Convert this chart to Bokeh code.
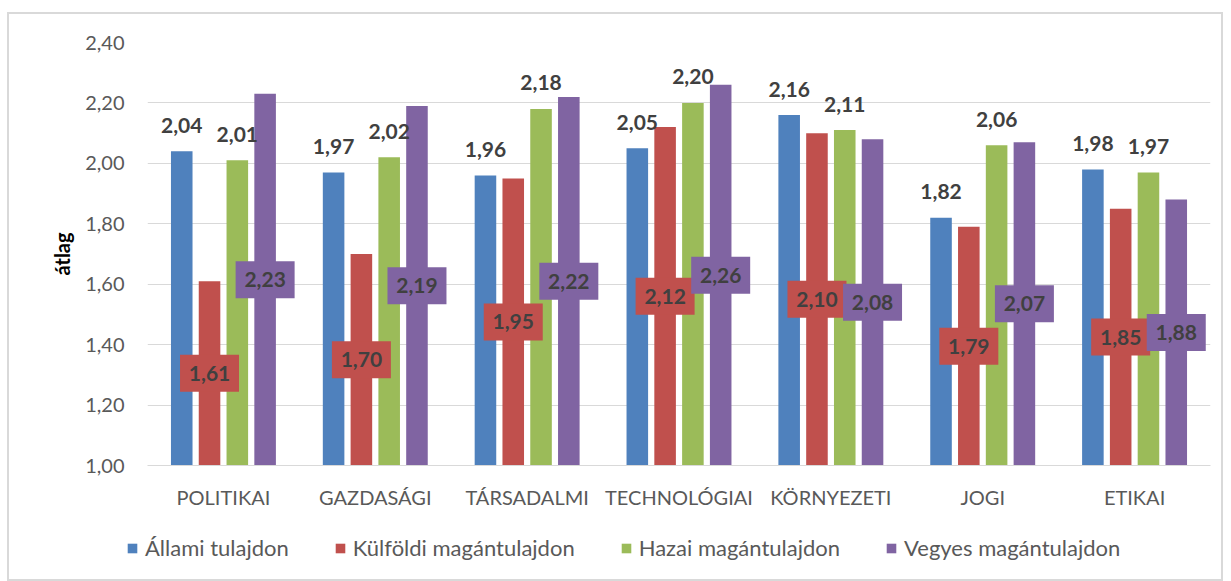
from bokeh.plotting import figure
from bokeh.models import (ColumnDataSource, FactorRange, Range1d, FixedTicker,
                          CustomJSTickFormatter, Legend, LegendItem)
from bokeh.layouts import column
from bokeh.transform import dodge
from bokeh.core.properties import value
from bokeh.embed import file_html
from bokeh.resources import INLINE

categories = ["POLITIKAI", "GAZDASÁGI", "TÁRSADALMI", "TECHNOLÓGIAI", "KÖRNYEZETI", "JOGI", "ETIKAI"]
series_names = ["Állami tulajdon", "Külföldi magántulajdon", "Hazai magántulajdon", "Vegyes magántulajdon"]
allami = [2.04, 1.97, 1.96, 2.05, 2.16, 1.82, 1.98]
kulfoldi = [1.61, 1.70, 1.95, 2.12, 2.10, 1.79, 1.85]
hazai = [2.01, 2.02, 2.18, 2.20, 2.11, 2.06, 1.97]
vegyes = [2.23, 2.19, 2.22, 2.26, 2.08, 2.07, 1.88]
y_ticks = [1.0, 1.2, 1.4, 1.6, 1.8, 2.0, 2.2, 2.4]

colors = ["#4f81bd", "#c0504d", "#9bbb59", "#8064a2"]
series = [allami, kulfoldi, hazai, vegyes]
keys = ["allami", "kulfoldi", "hazai", "vegyes"]
offsets = [-0.2745, -0.0915, 0.0915, 0.2745]
FONT = "Lato"
TXT = "#595959"
LBL = "#404040"

data = {"cat": categories}
for k, s in zip(keys, series):
    data[k] = s
    data[k + "_mid"] = [(1.0 + v) / 2 for v in s]
    data[k + "_lab"] = [f"{v:.2f}".replace(".", ",") for v in s]
src = ColumnDataSource(data)

p = figure(x_range=FactorRange(*categories), y_range=Range1d(1.0, 2.4),
           width=1212, height=506, output_backend="svg", toolbar_location=None,
           min_border_left=138, min_border_right=11, min_border_top=28, min_border_bottom=55)
p.outline_line_color = None
p.background_fill_color = "white"
p.border_fill_color = "white"

p.xgrid.grid_line_color = None
p.ygrid.grid_line_color = "#d9d9d9"
p.ygrid.grid_line_width = 1

p.yaxis.ticker = FixedTicker(ticks=y_ticks)
p.yaxis.formatter = CustomJSTickFormatter(code="return tick.toFixed(2).replace('.', ',');")
p.yaxis.axis_line_color = None
p.yaxis.major_tick_line_color = None
p.yaxis.minor_tick_line_color = None
p.yaxis.major_label_standoff = 17
p.yaxis.major_label_text_font = FONT
p.yaxis.major_label_text_font_size = "20px"
p.yaxis.major_label_text_color = TXT
p.yaxis.axis_label = "átlag"
p.yaxis.axis_label_text_font = FONT
p.yaxis.axis_label_text_font_size = "20px"
p.yaxis.axis_label_text_font_style = "bold"
p.yaxis.axis_label_text_color = "#000000"
p.yaxis.axis_label_standoff = 8

p.xaxis.axis_line_color = "#d9d9d9"
p.xaxis.major_tick_line_color = None
p.xaxis.minor_tick_line_color = None
p.xaxis.major_label_standoff = 13
p.xaxis.major_label_text_font = FONT
p.xaxis.major_label_text_font_size = "20px"
p.xaxis.major_label_text_color = TXT

for k, c, off in zip(keys, colors, offsets):
    p.vbar(x=dodge("cat", off, range=p.x_range), top=k, bottom=1.0, width=0.142,
           source=src, fill_color=c, line_color=None)

# outside-end labels (blue, green)
for k, off in [("allami", offsets[0]), ("hazai", offsets[2])]:
    p.text(x=dodge("cat", off, range=p.x_range), y=k, text=k + "_lab", source=src,
           text_align="center", text_baseline="alphabetic", y_offset=-26,
           text_font=value(FONT), text_font_size="21px", text_font_style="bold",
           text_color=LBL)

# center labels with boxes (red, purple)
for k, c, off in [("kulfoldi", colors[1], offsets[1]), ("vegyes", colors[3], offsets[3])]:
    p.rect(x=dodge("cat", off, range=p.x_range), y=k + "_mid", width=59, height=37,
           width_units="screen", height_units="screen", source=src,
           fill_color=c, line_color=None)
    p.text(x=dodge("cat", off, range=p.x_range), y=k + "_mid", text=k + "_lab", source=src,
           text_align="center", text_baseline="middle",
           text_font=value(FONT), text_font_size="21px", text_font_style="bold",
           text_color=LBL)

# legend strip (same series; bars lie outside this strip's visible range)
lg = figure(width=1212, height=59, output_backend="svg", toolbar_location=None,
            x_axis_location=None, y_axis_location=None,
            x_range=FactorRange(*categories), y_range=Range1d(0, 1),
            min_border_left=0, min_border_right=0, min_border_top=0, min_border_bottom=0)
try:
    lg.frame_align = False
except Exception:
    pass
lg.outline_line_color = None
lg.grid.grid_line_color = None
lg.border_fill_color = "white"
lg.background_fill_color = "white"
leg_renderers = [lg.vbar(x="cat", top=k, bottom=1.0, width=0.142, source=src,
                         fill_color=c, line_color=None)
                 for k, c in zip(keys, colors)]
legend = Legend(items=[LegendItem(label=n, renderers=[r]) for n, r in zip(series_names, leg_renderers)],
                orientation="horizontal", location=(117, 18), padding=0, margin=0,
                spacing=45, label_standoff=7, glyph_width=12, glyph_height=12,
                border_line_color=None, background_fill_alpha=0,
                label_text_font=FONT, label_text_font_size="22px", label_text_color=TXT)
lg.add_layout(legend, "center")

layout = column(p, lg, spacing=0, margin=(12, 0, 0, 7),
                styles={"border": "2px solid #d9d9d9"})

open("out.html", "w").write(file_html(layout, INLINE))
